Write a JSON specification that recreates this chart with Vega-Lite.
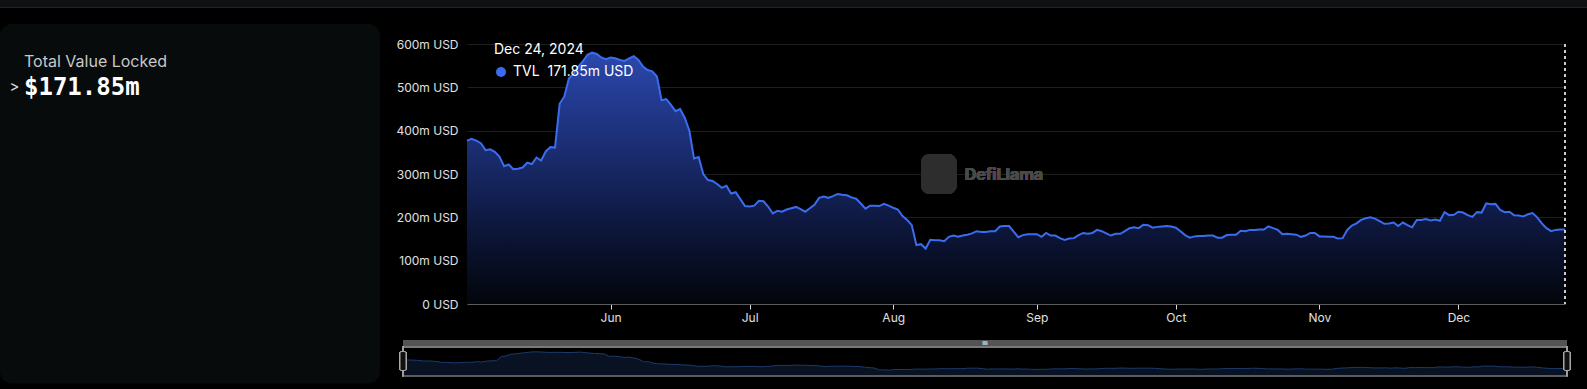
{
"$schema":"https://vega.github.io/schema/vega-lite/v6.json",
"width":1098,"height":260,
"autosize":{"type":"none"},
"padding":{"left":467,"top":44,"right":22,"bottom":85},
"background":"#000000",
"config":{"view":{"stroke":null},"font":"Inter"},
"title":{"text":"Total Value Locked","subtitle":"$171.85m","anchor":"start","frame":"group","orient":"top","offset":0,"dx":-443,"dy":100,"font":"Inter","fontSize":16,"fontWeight":"normal","color":"#c8c8c8","subtitleFont":"DejaVu Sans Mono","subtitleFontSize":24,"subtitleFontWeight":"bold","subtitleColor":"#ffffff","subtitlePadding":6},
"datasets":{"tvl":[
{"date":"2024-05-01","tvl":377},{"date":"2024-05-02","tvl":381},{"date":"2024-05-03","tvl":377},{"date":"2024-05-04","tvl":371},{"date":"2024-05-05","tvl":355},{"date":"2024-05-06","tvl":357},{"date":"2024-05-07","tvl":351},{"date":"2024-05-08","tvl":340},{"date":"2024-05-09","tvl":318},{"date":"2024-05-10","tvl":322},
{"date":"2024-05-11","tvl":311},{"date":"2024-05-12","tvl":312},{"date":"2024-05-13","tvl":315},{"date":"2024-05-14","tvl":326},{"date":"2024-05-15","tvl":323},{"date":"2024-05-16","tvl":338},{"date":"2024-05-17","tvl":331},{"date":"2024-05-18","tvl":352},{"date":"2024-05-19","tvl":362},{"date":"2024-05-20","tvl":361},
{"date":"2024-05-21","tvl":462},{"date":"2024-05-22","tvl":479},{"date":"2024-05-23","tvl":521},{"date":"2024-05-24","tvl":531},{"date":"2024-05-25","tvl":548},{"date":"2024-05-26","tvl":560},{"date":"2024-05-27","tvl":575},{"date":"2024-05-28","tvl":580},{"date":"2024-05-29","tvl":577},{"date":"2024-05-30","tvl":569},{"date":"2024-05-31","tvl":565},
{"date":"2024-06-01","tvl":569},{"date":"2024-06-02","tvl":567},{"date":"2024-06-03","tvl":563},{"date":"2024-06-04","tvl":561},{"date":"2024-06-05","tvl":567},{"date":"2024-06-06","tvl":572},{"date":"2024-06-07","tvl":563},{"date":"2024-06-08","tvl":548},{"date":"2024-06-09","tvl":540},{"date":"2024-06-10","tvl":537},
{"date":"2024-06-11","tvl":525},{"date":"2024-06-12","tvl":470},{"date":"2024-06-13","tvl":473},{"date":"2024-06-14","tvl":460},{"date":"2024-06-15","tvl":445},{"date":"2024-06-16","tvl":450},{"date":"2024-06-17","tvl":430},{"date":"2024-06-18","tvl":400},{"date":"2024-06-19","tvl":336},{"date":"2024-06-20","tvl":339},
{"date":"2024-06-21","tvl":300},{"date":"2024-06-22","tvl":286},{"date":"2024-06-23","tvl":284},{"date":"2024-06-24","tvl":277},{"date":"2024-06-25","tvl":268},{"date":"2024-06-26","tvl":273},{"date":"2024-06-27","tvl":255},{"date":"2024-06-28","tvl":258},{"date":"2024-06-29","tvl":242},{"date":"2024-06-30","tvl":226},
{"date":"2024-07-01","tvl":225},{"date":"2024-07-02","tvl":227},{"date":"2024-07-03","tvl":238},{"date":"2024-07-04","tvl":237},{"date":"2024-07-05","tvl":225},{"date":"2024-07-06","tvl":209},{"date":"2024-07-07","tvl":215},{"date":"2024-07-08","tvl":213},{"date":"2024-07-09","tvl":218},{"date":"2024-07-10","tvl":221},
{"date":"2024-07-11","tvl":224},{"date":"2024-07-12","tvl":219},{"date":"2024-07-13","tvl":213},{"date":"2024-07-14","tvl":221},{"date":"2024-07-15","tvl":229},{"date":"2024-07-16","tvl":245},{"date":"2024-07-17","tvl":248},{"date":"2024-07-18","tvl":245},{"date":"2024-07-19","tvl":249},{"date":"2024-07-20","tvl":254},
{"date":"2024-07-21","tvl":252},{"date":"2024-07-22","tvl":251},{"date":"2024-07-23","tvl":246},{"date":"2024-07-24","tvl":243},{"date":"2024-07-25","tvl":232},{"date":"2024-07-26","tvl":220},{"date":"2024-07-27","tvl":227},{"date":"2024-07-28","tvl":227},{"date":"2024-07-29","tvl":226},{"date":"2024-07-30","tvl":231},{"date":"2024-07-31","tvl":227},
{"date":"2024-08-01","tvl":222},{"date":"2024-08-02","tvl":218},{"date":"2024-08-03","tvl":203},{"date":"2024-08-04","tvl":194},{"date":"2024-08-05","tvl":182},{"date":"2024-08-06","tvl":136},{"date":"2024-08-07","tvl":138},{"date":"2024-08-08","tvl":128},{"date":"2024-08-09","tvl":148},{"date":"2024-08-10","tvl":147},
{"date":"2024-08-11","tvl":147},{"date":"2024-08-12","tvl":145},{"date":"2024-08-13","tvl":155},{"date":"2024-08-14","tvl":158},{"date":"2024-08-15","tvl":155},{"date":"2024-08-16","tvl":158},{"date":"2024-08-17","tvl":160},{"date":"2024-08-18","tvl":163},{"date":"2024-08-19","tvl":168},{"date":"2024-08-20","tvl":166},
{"date":"2024-08-21","tvl":166},{"date":"2024-08-22","tvl":168},{"date":"2024-08-23","tvl":168},{"date":"2024-08-24","tvl":179},{"date":"2024-08-25","tvl":180},{"date":"2024-08-26","tvl":180},{"date":"2024-08-27","tvl":167},{"date":"2024-08-28","tvl":154},{"date":"2024-08-29","tvl":159},{"date":"2024-08-30","tvl":161},{"date":"2024-08-31","tvl":161},
{"date":"2024-09-01","tvl":161},{"date":"2024-09-02","tvl":155},{"date":"2024-09-03","tvl":164},{"date":"2024-09-04","tvl":158},{"date":"2024-09-05","tvl":158},{"date":"2024-09-06","tvl":152},{"date":"2024-09-07","tvl":148},{"date":"2024-09-08","tvl":151},{"date":"2024-09-09","tvl":152},{"date":"2024-09-10","tvl":159},
{"date":"2024-09-11","tvl":164},{"date":"2024-09-12","tvl":162},{"date":"2024-09-13","tvl":164},{"date":"2024-09-14","tvl":171},{"date":"2024-09-15","tvl":168},{"date":"2024-09-16","tvl":163},{"date":"2024-09-17","tvl":158},{"date":"2024-09-18","tvl":162},{"date":"2024-09-19","tvl":162},{"date":"2024-09-20","tvl":168},
{"date":"2024-09-21","tvl":175},{"date":"2024-09-22","tvl":177},{"date":"2024-09-23","tvl":175},{"date":"2024-09-24","tvl":183},{"date":"2024-09-25","tvl":182},{"date":"2024-09-26","tvl":176},{"date":"2024-09-27","tvl":178},{"date":"2024-09-28","tvl":179},{"date":"2024-09-29","tvl":180},{"date":"2024-09-30","tvl":179},
{"date":"2024-10-01","tvl":176},{"date":"2024-10-02","tvl":168},{"date":"2024-10-03","tvl":159},{"date":"2024-10-04","tvl":153},{"date":"2024-10-05","tvl":156},{"date":"2024-10-06","tvl":157},{"date":"2024-10-07","tvl":157},{"date":"2024-10-08","tvl":158},{"date":"2024-10-09","tvl":158},{"date":"2024-10-10","tvl":153},
{"date":"2024-10-11","tvl":153},{"date":"2024-10-12","tvl":159},{"date":"2024-10-13","tvl":160},{"date":"2024-10-14","tvl":160},{"date":"2024-10-15","tvl":169},{"date":"2024-10-16","tvl":168},{"date":"2024-10-17","tvl":171},{"date":"2024-10-18","tvl":171},{"date":"2024-10-19","tvl":172},{"date":"2024-10-20","tvl":172},
{"date":"2024-10-21","tvl":179},{"date":"2024-10-22","tvl":175},{"date":"2024-10-23","tvl":171},{"date":"2024-10-24","tvl":161},{"date":"2024-10-25","tvl":162},{"date":"2024-10-26","tvl":161},{"date":"2024-10-27","tvl":160},{"date":"2024-10-28","tvl":155},{"date":"2024-10-29","tvl":158},{"date":"2024-10-30","tvl":164},{"date":"2024-10-31","tvl":164},
{"date":"2024-11-01","tvl":156},{"date":"2024-11-02","tvl":156},{"date":"2024-11-03","tvl":155},{"date":"2024-11-04","tvl":155},{"date":"2024-11-05","tvl":151},{"date":"2024-11-06","tvl":152},{"date":"2024-11-07","tvl":171},{"date":"2024-11-08","tvl":181},{"date":"2024-11-09","tvl":186},{"date":"2024-11-10","tvl":194},
{"date":"2024-11-11","tvl":198},{"date":"2024-11-12","tvl":200},{"date":"2024-11-13","tvl":197},{"date":"2024-11-14","tvl":191},{"date":"2024-11-15","tvl":185},{"date":"2024-11-16","tvl":186},{"date":"2024-11-17","tvl":188},{"date":"2024-11-18","tvl":180},{"date":"2024-11-19","tvl":188},{"date":"2024-11-20","tvl":182},
{"date":"2024-11-21","tvl":177},{"date":"2024-11-22","tvl":194},{"date":"2024-11-23","tvl":194},{"date":"2024-11-24","tvl":196},{"date":"2024-11-25","tvl":193},{"date":"2024-11-26","tvl":195},{"date":"2024-11-27","tvl":192},{"date":"2024-11-28","tvl":212},{"date":"2024-11-29","tvl":205},{"date":"2024-11-30","tvl":206},
{"date":"2024-12-01","tvl":213},{"date":"2024-12-02","tvl":211},{"date":"2024-12-03","tvl":205},{"date":"2024-12-04","tvl":201},{"date":"2024-12-05","tvl":212},{"date":"2024-12-06","tvl":211},{"date":"2024-12-07","tvl":232},{"date":"2024-12-08","tvl":230},{"date":"2024-12-09","tvl":231},{"date":"2024-12-10","tvl":217},
{"date":"2024-12-11","tvl":212},{"date":"2024-12-12","tvl":213},{"date":"2024-12-13","tvl":205},{"date":"2024-12-14","tvl":204},{"date":"2024-12-15","tvl":202},{"date":"2024-12-16","tvl":207},{"date":"2024-12-17","tvl":210},{"date":"2024-12-18","tvl":200},{"date":"2024-12-19","tvl":186},{"date":"2024-12-20","tvl":175},
{"date":"2024-12-21","tvl":168},{"date":"2024-12-22","tvl":171},{"date":"2024-12-23","tvl":172},{"date":"2024-12-24","tvl":171.85}
]},
"layer":[
{
"data":{"values":[{}]},
"layer":[
{"mark":{"type":"rect","fill":"#070b0c","cornerRadius":12},
 "encoding":{"x":{"datum":0,"type":"quantitative","scale":{"domain":[0,1587],"range":[-467,1120],"nice":false,"zero":false},"axis":null},"x2":{"datum":380},
 "y":{"datum":24,"type":"quantitative","scale":{"domain":[0,389],"range":[-44,345],"nice":false,"zero":false},"axis":null},"y2":{"datum":383.5}}},
{"mark":{"type":"rect","fill":"#0f1113"},
 "encoding":{"x":{"datum":0,"type":"quantitative"},"x2":{"datum":1587},"y":{"datum":0,"type":"quantitative"},"y2":{"datum":7}}},
{"mark":{"type":"rule","stroke":"#222528","strokeWidth":1},
 "encoding":{"x":{"datum":0,"type":"quantitative"},"x2":{"datum":1587},"y":{"datum":7.5,"type":"quantitative"}}}
]
},
{
"data":{"name":"tvl"},
"encoding":{
 "x":{"field":"date","type":"temporal","scale":{"type":"utc","domain":[{"year":2024,"month":5,"date":1,"utc":true},{"year":2024,"month":12,"date":24,"utc":true}]},
  "axis":{"orient":"bottom","zindex":1,"labelExpr":"utcFormat(datum.value, '%b')","values":[{"year":2024,"month":6,"date":1,"utc":true},{"year":2024,"month":7,"date":1,"utc":true},{"year":2024,"month":8,"date":1,"utc":true},{"year":2024,"month":9,"date":1,"utc":true},{"year":2024,"month":10,"date":1,"utc":true},{"year":2024,"month":11,"date":1,"utc":true},{"year":2024,"month":12,"date":1,"utc":true}],
  "grid":false,"domainColor":"#5c5c5c","tickColor":"#dddddd","tickSize":5,"labelColor":"#e0e0e0","labelFontSize":12,"labelPadding":3,"labelFont":"Inter",
  "title":">","titleAngle":0,"titleX":-453,"titleY":-218,"titleAlign":"center","titleBaseline":"middle","titleFontSize":15,"titleFontWeight":"normal","titleColor":"#dddddd","titleFont":"Inter"}},
 "y":{"field":"tvl","type":"quantitative","scale":{"domain":[0,600],"nice":false},
  "axis":{"orient":"left","grid":true,"title":null,"values":[0,100,200,300,400,500,600],"labelExpr":"datum.value == 0 ? '0 USD' : datum.value + 'm USD'","domain":false,"ticks":false,"tickSize":0,"labelPadding":9,"gridColor":"#1e1e1e","gridWidth":1,"labelColor":"#e0e0e0","labelFontSize":12,"labelFont":"Inter"}}
},
"layer":[
{"mark":{"type":"area","line":false,"fill":{"gradient":"linear","x1":0,"y1":0,"x2":0,"y2":1,"stops":[{"offset":0,"color":"#2b48ad"},{"offset":0.2,"color":"#22398e"},{"offset":0.4,"color":"#1a2c6e"},{"offset":0.6,"color":"#111d4c"},{"offset":0.8,"color":"#09102a"},{"offset":1,"color":"#03050b"}]}}},
{"mark":{"type":"line","strokeWidth":2},
 "encoding":{"color":{"datum":"TVL","type":"nominal","scale":{"range":["#3b6cf0"]},
  "legend":{"orient":"none","legendX":27,"legendY":-1,"title":"Dec 24, 2024","titleColor":"#ffffff","titleFontSize":14,"titleFontWeight":"normal","titleFont":"Inter","titlePadding":8,"labelColor":"#ffffff","labelFontSize":14,"labelFont":"Inter","labelOffset":5,"labelExpr":"'TVL\u00a0\u00a0171.85m USD'","symbolType":"circle","symbolSize":100,"symbolFillColor":"#3b6cf0","symbolStrokeColor":"#3b6cf0","symbolStrokeWidth":0,
   "encode":{"symbols":{"update":{"fill":{"value":"#3b6cf0"},"stroke":{"value":"#3b6cf0"},"strokeWidth":{"value":0},"shape":{"value":"circle"},"opacity":{"value":1}}}}}}}},
{"mark":{"type":"rule","stroke":"#cccccc","strokeWidth":1,"strokeDash":[3,3]},
 "encoding":{"x":{"datum":{"year":2024,"month":12,"date":24,"utc":true},"type":"temporal"},"y":{"datum":600,"type":"quantitative"},"y2":{"datum":0}}},
{"mark":{"type":"rect","fill":"#2d2d2d","cornerRadius":9},
 "encoding":{"x":{"datum":{"year":2024,"month":8,"date":7,"hours":0,"utc":true},"type":"temporal"},"x2":{"datum":{"year":2024,"month":8,"date":14,"hours":17,"utc":true}},"y":{"datum":346,"type":"quantitative"},"y2":{"datum":254}}},
{"mark":{"type":"text","text":"DefiLlama","fill":"#4a4a4a","fontSize":16,"fontWeight":"bold","font":"Inter","align":"left","baseline":"middle"},
 "encoding":{"x":{"datum":{"year":2024,"month":8,"date":16,"hours":10,"utc":true},"type":"temporal"},"y":{"datum":298,"type":"quantitative"}}}
]
},
{
"data":{"name":"tvl"},
"layer":[
{"mark":{"type":"rect","fill":"#545454"},
 "encoding":{"x":{"datum":{"year":2024,"month":5,"date":1,"utc":true},"type":"temporal","scale":{"type":"utc","domain":[{"year":2024,"month":5,"date":1,"utc":true},{"year":2024,"month":12,"date":24,"utc":true}],"range":[-64,1100]},"axis":null},
  "x2":{"datum":{"year":2024,"month":12,"date":24,"utc":true}},
  "y":{"datum":869,"type":"quantitative","scale":{"domain":[0,600],"range":[331.5,307],"nice":false,"zero":false},"axis":null},"y2":{"datum":715}}},
{"mark":{"type":"area","fill":"#0b1a31","line":{"stroke":"#1c3a6c","strokeWidth":1}},
 "encoding":{"x":{"field":"date","type":"temporal"},"y":{"field":"tvl","type":"quantitative"}}},
{"mark":{"type":"rule","stroke":"#7a7a7a","strokeWidth":1},
 "encoding":{"x":{"datum":{"year":2024,"month":5,"date":1,"utc":true},"type":"temporal"},"x2":{"datum":{"year":2024,"month":12,"date":24,"utc":true}},"y":{"datum":700,"type":"quantitative"}}},
{"mark":{"type":"rule","stroke":"#5c5c5c","strokeWidth":1.5},
 "encoding":{"x":{"datum":{"year":2024,"month":5,"date":1,"utc":true},"type":"temporal"},"x2":{"datum":{"year":2024,"month":12,"date":24,"utc":true}},"y":{"datum":-10,"type":"quantitative"}}},
{"mark":{"type":"rule","stroke":"#a0a0a0","strokeWidth":1},
 "encoding":{"x":{"datum":{"year":2024,"month":5,"date":1,"utc":true},"type":"temporal"},"y":{"datum":715,"type":"quantitative"},"y2":{"datum":-14}}},
{"mark":{"type":"rule","stroke":"#a0a0a0","strokeWidth":1},
 "encoding":{"x":{"datum":{"year":2024,"month":12,"date":24,"utc":true},"type":"temporal"},"y":{"datum":715,"type":"quantitative"},"y2":{"datum":-14}}},
{"mark":{"type":"rect","width":6,"height":19,"cornerRadius":2,"fill":"#111111","stroke":"#a8a8a8","strokeWidth":1},
 "encoding":{"x":{"datum":{"year":2024,"month":5,"date":1,"utc":true},"type":"temporal"},"y":{"datum":355,"type":"quantitative"}}},
{"mark":{"type":"rect","width":6,"height":19,"cornerRadius":2,"fill":"#111111","stroke":"#a8a8a8","strokeWidth":1},
 "encoding":{"x":{"datum":{"year":2024,"month":12,"date":24,"utc":true},"type":"temporal"},"y":{"datum":355,"type":"quantitative"}}},
{"mark":{"type":"text","text":"III","fill":"#b0b0b0","fontSize":5,"font":"DejaVu Sans","align":"center","baseline":"middle"},
 "encoding":{"x":{"datum":{"year":2024,"month":8,"date":27,"hours":12,"utc":true},"type":"temporal"},"y":{"datum":789,"type":"quantitative"}}}
]
}
],
"resolve":{"scale":{"x":"independent","y":"independent","color":"independent"}}
}
